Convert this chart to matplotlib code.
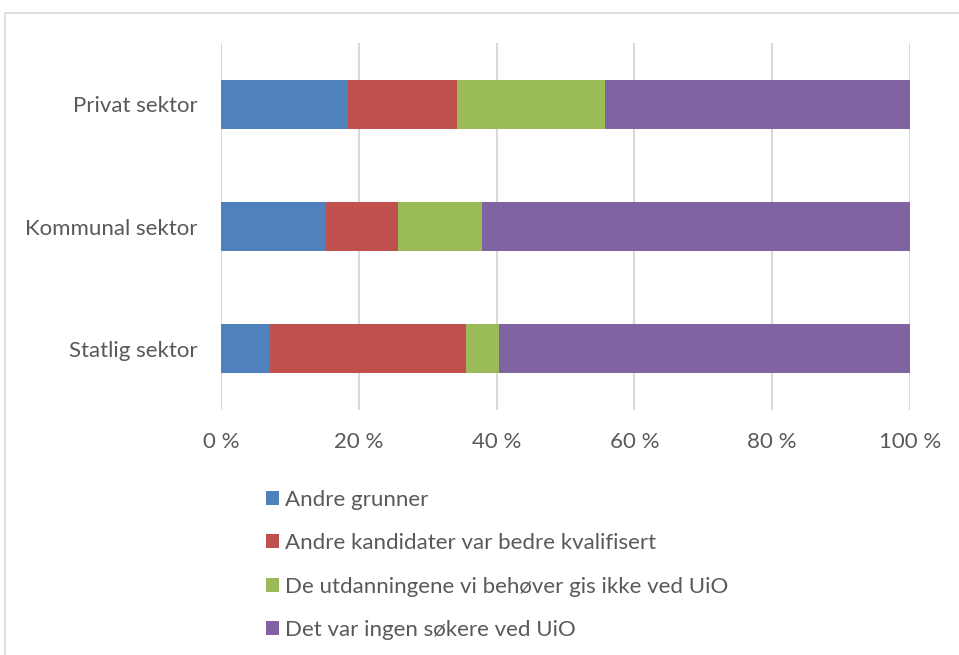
import numpy as np
import matplotlib.pyplot as plt
from matplotlib.patches import Rectangle

plt.rcParams['font.family'] = ['Lato', 'DejaVu Sans']

sectors = ["Statlig sektor", "Kommunal sektor", "Privat sektor"]
series = [
    "Andre grunner",
    "Andre kandidater var bedre kvalifisert",
    "De utdanningene vi behøver gis ikke ved UiO",
    "Det var ingen søkere ved UiO",
]
andre_grunner = [7.1, 15.2, 18.4]
bedre_kvalifisert = [28.5, 10.5, 15.9]
gis_ikke = [4.8, 12.2, 21.4]
ingen_sokere = [59.6, 62.1, 44.3]
colors = ["#4f81bd", "#c0504d", "#9bbb59", "#8064a2"]

W, H = 959, 655
fig = plt.figure(figsize=(W / 100, H / 100), dpi=100)
ax = fig.add_axes([221 / W, 1 - 410 / H, (910 - 221) / W, (410 - 43) / H])

# outer frame (only top/left visible in reference)
fig.patches.append(Rectangle((5 / W, -0.1), 1.2, 1.1 - 13 / H, transform=fig.transFigure,
                             fill=False, edgecolor="#d9d9d9", lw=1.2))

y = np.arange(len(sectors))
left = np.zeros(len(sectors))
for vals, name, c in zip([andre_grunner, bedre_kvalifisert, gis_ikke, ingen_sokere], series, colors):
    ax.barh(y, vals, left=left, height=0.4, color=c, label=name, zorder=3)
    left += np.array(vals)

ax.set_xlim(0, 100)
ax.set_ylim(-0.5, len(sectors) - 0.5)
ax.set_xticks(range(0, 101, 20))
ax.set_xticklabels([f"{v} %" for v in range(0, 101, 20)])
ax.set_yticks(y)
ax.set_yticklabels(sectors)
ax.tick_params(length=0, labelsize=16, labelcolor="#595959")
ax.tick_params(axis="x", pad=16)
ax.tick_params(axis="y", pad=17)
ax.grid(axis="x", color="#d9d9d9", lw=1.5, zorder=0)
for s in ax.spines.values():
    s.set_visible(False)

leg = fig.legend(loc="upper left", bbox_to_anchor=(257 / W, 1 - 481 / H), frameon=False,
                 fontsize=16, labelcolor="#595959", handlelength=0.6, handleheight=0.6,
                 handletextpad=0.25, labelspacing=1.05, borderaxespad=0)

fig.savefig("out.png", dpi=100)
